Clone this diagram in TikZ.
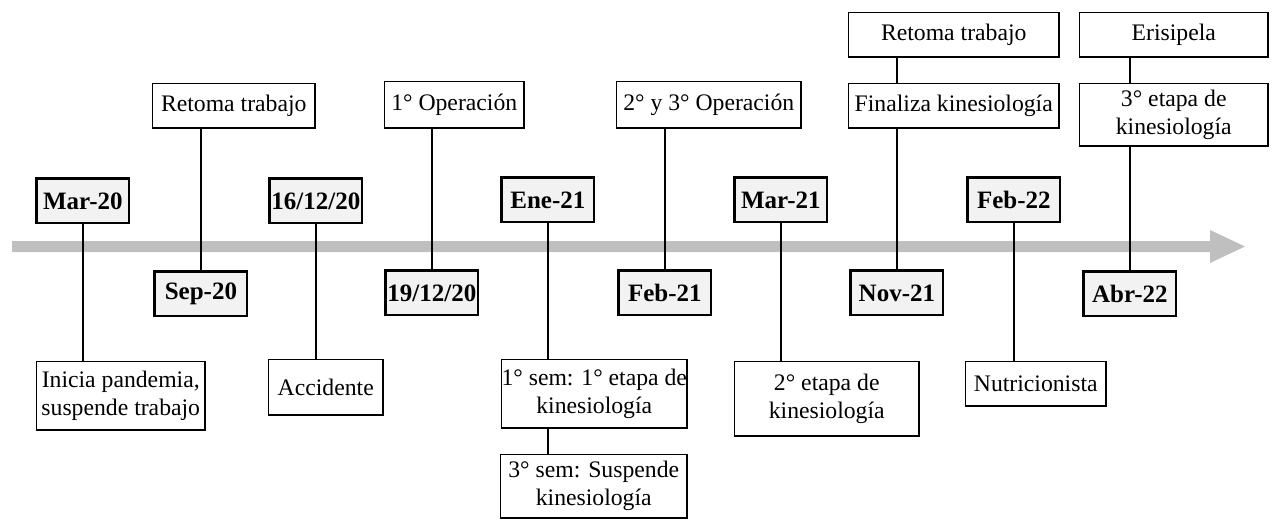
\documentclass[tikz,border=0pt]{standalone}
\usepackage{fontspec}
\setmainfont{Liberation Serif}
\definecolor{boxgray}{RGB}{242,242,242}
\definecolor{arrowgray}{RGB}{191,191,191}
\begin{document}
\begin{tikzpicture}[x=1pt,y=-1pt,
  datebox/.style={draw, line width=2.8pt, fill=boxgray, inner sep=0pt, anchor=north west,
    minimum width=92.2pt, minimum height=44.2pt, font=\fontsize{25}{29}\selectfont\bfseries},
  tbox/.style={draw, line width=1.5pt, fill=white, inner sep=0pt, anchor=north west, align=center,
    font=\fontsize{23.7}{28}\selectfont},
  link/.style={line width=2pt}]
\useasboundingbox (0,0) rectangle (1272,520);
% timeline arrow
\fill[arrowgray] (12,241) -- (1210,241) -- (1210,230) -- (1245,246.5) -- (1210,263) -- (1210,252) -- (12,252) -- cycle;
% date boxes
\node[datebox] (d1) at (35.4,177.4) {Mar-20};
\node[datebox] (d2) at (153.4,270.4) {Sep-20};
\node[datebox] (d3) at (268.4,177.4) {16/12/20};
\node[datebox] (d4) at (384.4,269.4) {19/12/20};
\node[datebox] (d5) at (500.4,176.4) {Ene-21};
\node[datebox] (d6) at (617.4,269.4) {Feb-21};
\node[datebox] (d7) at (733.4,176.4) {Mar-21};
\node[datebox] (d8) at (849.4,269.4) {Nov-21};
\node[datebox] (d9) at (966.4,176.4) {Feb-22};
\node[datebox] (d10) at (1082.4,270.4) {Abr-22};
% text boxes
\node[tbox, minimum width=168.5pt, minimum height=68.5pt] (t1) at (35.75,360.75) {Inicia pandemia,\\suspende trabajo};
\node[tbox, minimum width=162.5pt, minimum height=44.5pt] (t2) at (151.75,82.75) {Retoma trabajo};
\node[tbox, minimum width=114.5pt, minimum height=55.5pt] (t3) at (267.75,358.75) {Accidente};
\node[tbox, minimum width=139.5pt, minimum height=46.5pt] (t4) at (383.75,80.75) {1° Operación};
\node[tbox, minimum width=185.5pt, minimum height=68.5pt] (t5) at (500.75,358.75) {1° sem: 1° etapa de\\kinesiología};
\node[tbox, minimum width=186.5pt, minimum height=63.5pt] (t6) at (499.75,453.75) {3° sem: Suspende\\kinesiología};
\node[tbox, minimum width=184.5pt, minimum height=46.5pt] (t7) at (615.75,80.75) {2° y 3° Operación};
\node[tbox, minimum width=184.5pt, minimum height=74.5pt] (t8) at (733.75,360.75) {2° etapa de\\kinesiología};
\node[tbox, minimum width=210.5pt, minimum height=44.5pt] (t9) at (847.75,11.75) {Retoma trabajo};
\node[tbox, minimum width=210.5pt, minimum height=44.5pt] (t10) at (847.75,82.75) {Finaliza kinesiología};
\node[tbox, minimum width=140.5pt, minimum height=44.5pt] (t11) at (964.75,360.75) {Nutricionista};
\node[tbox, minimum width=188.5pt, minimum height=44.5pt] (t12) at (1078.75,11.75) {Erisipela};
\node[tbox, minimum width=188.5pt, minimum height=62.5pt] (t13) at (1078.75,82.75) {3° etapa de\\kinesiología};
% connectors
\draw[link] (d1.south) -- (d1.south |- t1.north);
\draw[link] (d2.north) -- (d2.north |- t2.south);
\draw[link] (d3.south) -- (d3.south |- t3.north);
\draw[link] (d4.north) -- (d4.north |- t4.south);
\draw[link] (d5.south) -- (d5.south |- t5.north);
\draw[link] (d5.south |- t5.south) -- (d5.south |- t6.north);
\draw[link] (d6.north) -- (d6.north |- t7.south);
\draw[link] (d7.south) -- (d7.south |- t8.north);
\draw[link] (d8.north) -- (d8.north |- t10.south);
\draw[link] (d8.north |- t9.south) -- (d8.north |- t10.north);
\draw[link] (d9.south) -- (d9.south |- t11.north);
\draw[link] (d10.north) -- (d10.north |- t13.south);
\draw[link] (d10.north |- t12.south) -- (d10.north |- t13.north);
\end{tikzpicture}
\end{document}
